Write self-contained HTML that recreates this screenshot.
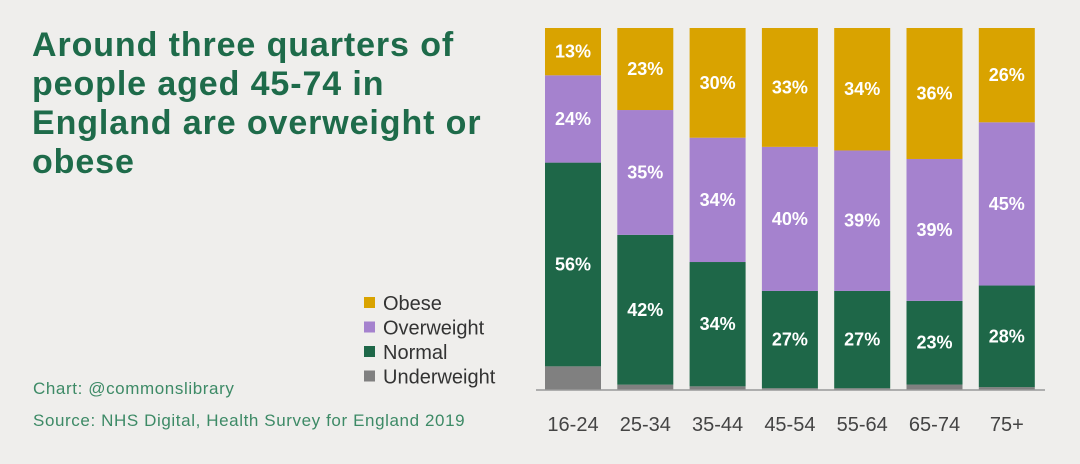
<!DOCTYPE html>
<html><head><meta charset="utf-8"><style>
body{margin:0;width:1080px;height:464px;background:#efeeec;font-family:"Liberation Sans",sans-serif;overflow:hidden;position:relative}
.title{position:absolute;left:32px;top:26px;font-size:34px;line-height:39px;font-weight:bold;color:#1e6b4a;white-space:nowrap;letter-spacing:0.9px}
.foot{position:absolute;left:33px;font-size:17px;color:#3d8a66;letter-spacing:0.6px;white-space:nowrap}
</style></head><body>
<div class="title">Around three quarters of<br>people aged 45-74 in<br>England are overweight or<br>obese</div>
<div class="foot" style="top:379px">Chart: @commonslibrary</div>
<div class="foot" style="top:411px">Source: NHS Digital, Health Survey for England 2019</div>
<svg id="chart" width="1080" height="464" style="position:absolute;left:0;top:0"></svg>
<script>
const categories=["16-24","25-34","35-44","45-54","55-64","65-74","75+"];
const underweight=[6.5,1.5,1,0.5,0.5,1.5,0.8];
const normal=[56,42,34,27,27,23,28];
const overweight=[24,35,34,40,39,39,45];
const obese=[13,23,30,33,34,36,26];
const seriesNames=["Underweight","Normal","Overweight","Obese"];
const colors=["#808080","#1e6748","#a582ce","#d9a300"];
const labelShown=[false,true,true,true];
const svg=document.getElementById('chart');
const NS="http://www.w3.org/2000/svg";
const x0=545,step=72.3,bw=56,yTop=28,yBase=390;
const xPos=i=>x0+i*step;
const yScale=(v,tot)=>(v/tot)*(yBase-yTop);
const series=[underweight,normal,overweight,obese];
function mk(t,a){const e=document.createElementNS(NS,t);for(const k in a)e.setAttribute(k,a[k]);svg.appendChild(e);return e;}
categories.forEach((c,i)=>{
  const tot=series.reduce((s,a)=>s+a[i],0);
  let y=yBase;
  series.forEach((arr,s)=>{
    const h=yScale(arr[i],tot);
    const r=mk('rect',{x:xPos(i),y:y-h,width:bw,height:h,fill:colors[s]});
    
    
    if(labelShown[s]){
      const t=mk('text',{x:xPos(i)+bw/2,y:y-h/2+6,'text-anchor':'middle','font-size':'18','font-weight':'bold',fill:'#fff'});
      t.textContent=Math.round(arr[i])+'%';
      
      
    }
    y-=h;
  });
  const l=mk('text',{x:xPos(i)+bw/2,y:431,'text-anchor':'middle','font-size':'20',fill:'#444'});
  l.textContent=c;
  
  
});
const ax=mk('line',{x1:536,x2:1045,y1:390,y2:390,stroke:'#999','stroke-width':1.5});


[3,2,1,0].forEach((s,k)=>{
  const y=303+k*24.5;
  const r=mk('rect',{x:364,y:y-6,width:11,height:11,fill:colors[s]});
  
  
  const t=mk('text',{x:383,y:y+7,'font-size':'20',fill:'#333'});
  t.textContent=seriesNames[s];
  
  
});
</script>
</body></html>
